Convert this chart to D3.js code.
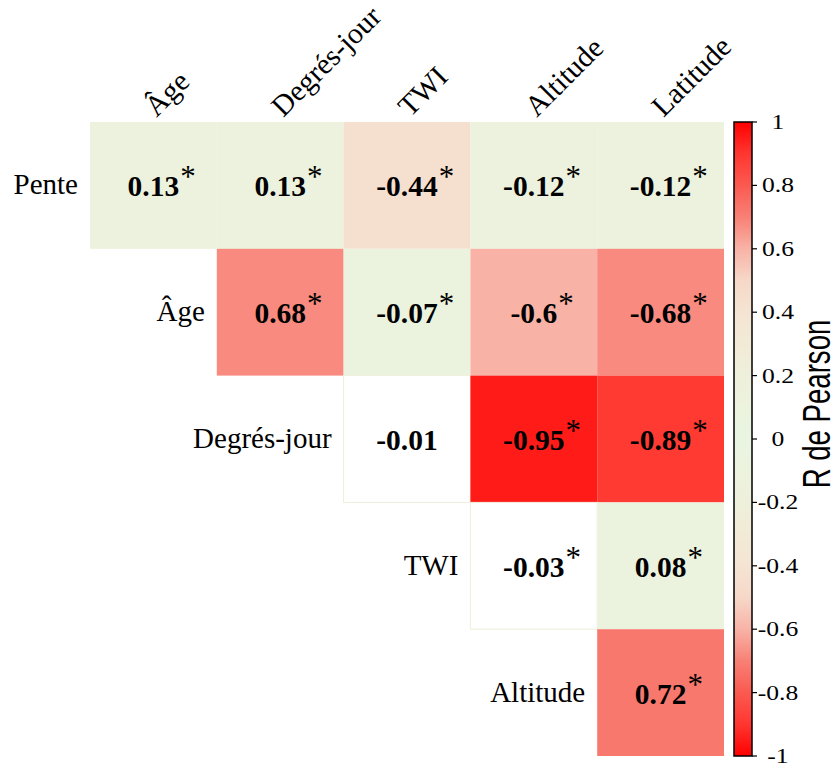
<!DOCTYPE html>
<html lang="fr">
<head>
<meta charset="UTF-8">
<title>Corrélations</title>
<script src="https://cdn.jsdelivr.net/npm/d3@7"></script>
<style>
    body { margin: 0; background: #fff; }
    .lab { font-family: "Liberation Serif", "Times New Roman", serif; font-size: 29px; fill: #000; }
    .val { font-family: "Liberation Serif", "Times New Roman", serif; font-size: 29.5px; font-weight: bold; fill: #000; }
    .tick { font-family: "Liberation Serif", "Times New Roman", serif; font-size: 21px; fill: #000; }
    .ttl { font-family: "Liberation Sans", Arial, sans-serif; font-size: 30px; fill: #000; }
</style>
</head>
<body>
<div id="chart"></div>
<script>
// variables
const rowNames = ["Pente", "Âge", "Degrés-jour", "TWI", "Altitude"];
const colNames = ["Âge", "Degrés-jour", "TWI", "Altitude", "Latitude"];

// R de Pearson, une ligne par variable (null = pas affiché)
const rPente    = [0.13, 0.13, -0.44, -0.12, -0.12];
const rAge      = [null, 0.68, -0.07, -0.6, -0.68];
const rDegres   = [null, null, -0.01, -0.95, -0.89];
const rTwi      = [null, null, null, -0.03, 0.08];
const rAltitude = [null, null, null, null, 0.72];

// significatif ?
const sPente    = [1, 1, 1, 1, 1];
const sAge      = [0, 1, 1, 1, 1];
const sDegres   = [0, 0, 0, 1, 1];
const sTwi      = [0, 0, 0, 1, 1];
const sAltitude = [0, 0, 0, 0, 1];

const legendTicks = [-1, -0.8, -0.6, -0.4, -0.2, 0, 0.2, 0.4, 0.6, 0.8, 1];

const rVals = [rPente, rAge, rDegres, rTwi, rAltitude];
const sVals = [sPente, sAge, sDegres, sTwi, sAltitude];

let cells = [];
rowNames.forEach(function (rn, i) {
    colNames.forEach(function (cn, j) {
        if (rVals[i][j] !== null) {
            cells.push({row: rn, col: cn, r: rVals[i][j], sig: sVals[i][j]});
        }
    });
});

const W = 834, H = 765;
const svg = d3.select("#chart").append("svg")
    .attr("width", W).attr("height", H);

const x = d3.scaleBand().domain(colNames).range([90, 724]);
const y = d3.scaleBand().domain(rowNames).range([122, 756]);

// palette symétrique (blanc si |r| très petit)
const absColor = d3.scaleLinear()
    .domain([0, 0.2, 0.4, 0.5, 0.6, 0.7, 0.8, 0.9, 1])
    .range(["#e9f5e1", "#eef0db", "#f5e4d3", "#f6d8c8", "#f8b3a6", "#f88075", "#fa5a50", "#ff3630", "#ff0000"]);
function fill(v) {
    return Math.abs(v) < 0.05 ? "#ffffff" : absColor(Math.abs(v));
}

// cases
svg.append("g").selectAll("rect")
    .data(cells).enter().append("rect")
    .attr("x", d => x(d.col))
    .attr("y", d => y(d.row))
    .attr("width", x.bandwidth())
    .attr("height", y.bandwidth())
    .attr("fill", d => fill(d.r))
    .attr("stroke", d => Math.abs(d.r) < 0.05 ? "#eeeedc" : "none")
    .attr("stroke-width", 1);

// valeurs
const vt = svg.append("g").selectAll("text")
    .data(cells).enter().append("text")
    .attr("class", "val")
    .attr("x", d => x(d.col) + x.bandwidth() / 2)
    .attr("y", d => y(d.row) + y.bandwidth() / 2 + 11)
    .attr("text-anchor", "middle")
    .text(d => String(d.r));

// étoiles
svg.append("g").selectAll("text")
    .data(cells.filter(d => d.sig)).enter().append("text")
    .attr("class", "lab")
    .style("font-size", "31px")
    .attr("x", function (d) {
        let w = vt.filter(e => e === d).node().getComputedTextLength();
        return x(d.col) + x.bandwidth() / 2 + w / 2 + 1;
    })
    .attr("y", d => y(d.row) + y.bandwidth() / 2 + 2)
    .text("*");

// étiquettes de lignes
svg.append("g").selectAll("text")
    .data(rowNames).enter().append("text")
    .attr("class", "lab")
    .attr("x", (d, i) => x(colNames[i]) - 12)
    .attr("y", d => y(d) + y.bandwidth() / 2 + 9)
    .attr("text-anchor", "end")
    .text(d => d);

// étiquettes de colonnes
svg.append("g").selectAll("text")
    .data(colNames).enter().append("text")
    .attr("class", "lab")
    .style("font-size", "29.5px")
    .attr("transform", d => "translate(" + (x(d) + x.bandwidth() / 2 + 3) + "," + 118 + ") rotate(-45)")
    .text(d => d);

// légende
const ly = d3.scaleLinear().domain([-1, 1]).range([756, 122]);
const grad = svg.append("defs").append("linearGradient")
    .attr("id", "grad").attr("x1", 0).attr("y1", 1).attr("x2", 0).attr("y2", 0);
d3.range(-1, 1.001, 0.05).forEach(function (v) {
    grad.append("stop")
        .attr("offset", (v + 1) / 2)
        .attr("stop-color", absColor(Math.abs(v)));
});
svg.append("rect")
    .attr("x", 734).attr("y", ly(1))
    .attr("width", 18).attr("height", ly(-1) - ly(1))
    .attr("fill", "url(#grad)")
    .attr("stroke", "#000").attr("stroke-width", 1.5);

const lg = svg.append("g").selectAll("g")
    .data(legendTicks).enter().append("g");
lg.append("line")
    .attr("x1", 752).attr("x2", 757)
    .attr("y1", d => ly(d)).attr("y2", d => ly(d))
    .attr("stroke", "#000").attr("stroke-width", 1.2);
lg.append("text")
    .attr("class", "tick")
    .attr("text-anchor", "middle")
    .attr("transform", d => "translate(778," + (ly(d) + 7) + ") scale(1.22,1)")
    .text(d => String(d));

svg.append("text")
    .attr("class", "ttl")
    .attr("transform", "translate(830,404) rotate(-90) scale(0.92,1.3)")
    .attr("text-anchor", "middle")
    .text("R de Pearson");
</script>
</body>
</html>
